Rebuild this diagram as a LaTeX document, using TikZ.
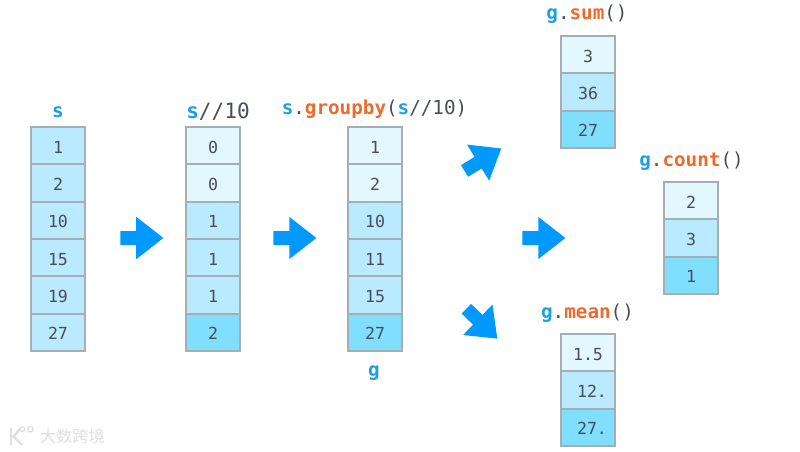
\documentclass[tikz,border=0pt]{standalone}
\usepackage{fontspec}
\setmonofont{DejaVu Sans Mono}
\newfontfamily\cjkfont{Noto Sans CJK SC}
\usetikzlibrary{shapes.arrows}

\definecolor{varblue}{HTML}{1C9FEA}
\definecolor{methodorange}{HTML}{F0692B}
\definecolor{codegray}{HTML}{484E53}
\definecolor{arrowblue}{HTML}{0099FF}
\definecolor{edgegray}{HTML}{A5AEB3}
\definecolor{marklight}{HTML}{DEDEDE}
\definecolor{palecell}{HTML}{E3F7FF}
\definecolor{midcell}{HTML}{BAEAFF}
\definecolor{deepcell}{HTML}{80DEFF}
\newcommand{\varname}[1]{\textcolor{varblue}{\textbf{#1}}}
\newcommand{\methodname}[1]{\textcolor{methodorange}{\textbf{#1}}}

\begin{document}
\begin{tikzpicture}[
    cell/.style={draw=edgegray,line width=0.045cm,text=codegray,
        minimum width=1.35cm,minimum height=0.933cm,inner sep=0pt,text height=0.38cm,
        font=\ttfamily\fontsize{11.8}{14}\selectfont},
    pale/.style={cell,fill=palecell},
    mid/.style={cell,fill=midcell},
    deep/.style={cell,fill=deepcell},
    title/.style={text=codegray,inner sep=0pt,
        font=\ttfamily\fontsize{13.7}{16}\selectfont},
    bigarrow/.style={single arrow,fill=arrowblue,inner xsep=0pt,inner ysep=0.1625cm,
        minimum height=1.075cm,
        single arrow head extend=0.36cm,single arrow tip angle=76,
        single arrow head indent=0cm},
    logoline/.style={marklight,line width=0.06cm}
]
    \useasboundingbox (0,0) rectangle (20,11.3);

    \node[title] (sTitle) at (1.45,8.5) {\varname{s}};
    \node[mid] (s1) at (1.45,7.658) {1};
    \node[mid] (s2) at (1.45,6.725) {2};
    \node[mid] (s3) at (1.45,5.793) {10};
    \node[mid] (s4) at (1.45,4.858) {15};
    \node[mid] (s5) at (1.45,3.925) {19};
    \node[mid] (s6) at (1.45,2.993) {27};

    \node[title,font=\ttfamily\fontsize{15}{16}\selectfont] (keyTitle) at (5.45,8.52) {\varname{s}//10};
    \node[pale] (key1) at (5.325,7.658) {0};
    \node[pale] (key2) at (5.325,6.725) {0};
    \node[mid] (key3) at (5.325,5.793) {1};
    \node[mid] (key4) at (5.325,4.858) {1};
    \node[mid] (key5) at (5.325,3.925) {1};
    \node[deep] (key6) at (5.325,2.993) {2};

    \node[title] (groupTitle) at (9.363,8.575)
        {\varname{s}.\methodname{groupby}(\varname{s}//10)};
    \node[pale] (g1) at (9.375,7.658) {1};
    \node[pale] (g2) at (9.375,6.725) {2};
    \node[mid] (g3) at (9.375,5.793) {10};
    \node[mid] (g4) at (9.375,4.858) {11};
    \node[mid] (g5) at (9.375,3.925) {15};
    \node[deep] (g6) at (9.375,2.993) {27};
    \node[title] (gName) at (9.35,1.98) {\varname{g}};

    \node[title] (sumTitle) at (14.675,10.94) {\varname{g}.\methodname{sum}()};
    \node[pale] (sum1) at (14.7,9.933) {3};
    \node[mid] (sum2) at (14.7,9.0) {36};
    \node[deep] (sum3) at (14.7,8.068) {27};

    \node[title] (countTitle) at (17.288,7.27) {\varname{g}.\methodname{count}()};
    \node[pale] (count1) at (17.275,6.283) {2};
    \node[mid] (count2) at (17.275,5.35) {3};
    \node[deep] (count3) at (17.275,4.418) {1};

    \node[title] (meanTitle) at (14.688,3.47) {\varname{g}.\methodname{mean}()};
    \node[pale] (mean1) at (14.7,2.483) {1.5};
    \node[mid] (mean2) at (14.7,1.55) {\hspace*{0.2cm}12.};
    \node[deep] (mean3) at (14.7,0.618) {\hspace*{0.2cm}27.};

    \node[bigarrow] (step1) at (3.438,5.35) {};
    \node[bigarrow] (step2) at (7.263,5.35) {};
    \node[bigarrow] (step3) at (13.488,5.35) {};
    \node[bigarrow,rotate=31.5] (stepUp) at (11.98,7.25) {};
    \node[bigarrow,rotate=-44] (stepDown) at (11.967,3.283) {};

    % watermark
    \node[text=marklight,inner sep=0pt,font=\cjkfont\fontsize{11.5}{14}\selectfont] (markText) at (1.81,0.39) {大数跨境};
    \draw[logoline] (0.27,0.6) -- (0.27,0.18);
    \draw[logoline] (0.5,0.58) -- (0.34,0.39) -- (0.55,0.18);
    \draw[marklight,line width=0.03cm] (0.56,0.57) circle (0.06) (0.76,0.57) circle (0.07);
\end{tikzpicture}
\end{document}
